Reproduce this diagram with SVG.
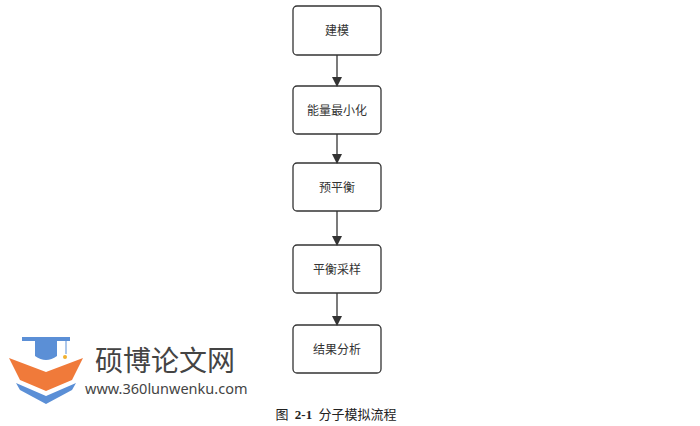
<svg xmlns="http://www.w3.org/2000/svg" width="700" height="426" viewBox="0 0 700 426">
<style>
.b{fill:#fff;stroke:#333;stroke-width:1.3}
.t{font-family:"Noto Sans CJK SC",sans-serif;font-size:12px;fill:#333;text-anchor:middle}
.c{stroke:#333;stroke-width:1.3;fill:none}
</style>
<defs><marker id="a" markerWidth="10" markerHeight="10" refX="9" refY="5" orient="auto" markerUnits="userSpaceOnUse"><path d="M0,0 L10,5 L0,10 z" fill="#333"/></marker></defs>
<rect width="700" height="426" fill="#fff"/>
<g id="n1"><rect class="b" x="293" y="6" width="88" height="49" rx="4"/><text class="t" x="337" y="35">建模</text></g>
<g id="n2"><rect class="b" x="293" y="86" width="88" height="48" rx="4"/><text class="t" x="337" y="115">能量最小化</text></g>
<g id="n3"><rect class="b" x="293" y="163" width="88" height="48" rx="4"/><text class="t" x="337" y="192">预平衡</text></g>
<g id="n4"><rect class="b" x="293" y="245" width="88" height="48" rx="4"/><text class="t" x="337" y="274">平衡采样</text></g>
<g id="n5"><rect class="b" x="293" y="325" width="88" height="48" rx="4"/><text class="t" x="337" y="354">结果分析</text></g>
<g id="connectors">
<line class="c" x1="337" y1="55" x2="337" y2="86" marker-end="url(#a)"/>
<line class="c" x1="337" y1="134" x2="337" y2="163" marker-end="url(#a)"/>
<line class="c" x1="337" y1="211" x2="337" y2="245" marker-end="url(#a)"/>
<line class="c" x1="337" y1="293" x2="337" y2="325" marker-end="url(#a)"/>
</g>
<g id="logo">
<path d="M22,337 L70,337 L70,341 L22,341 z" fill="#5b8fd6"/>
<path d="M35,340 L57,340 L57,356 Q46,364 35,356 z" fill="#5b8fd6"/>
<line x1="66" y1="340" x2="66" y2="354" stroke="#5b8fd6" stroke-width="1"/>
<circle cx="65" cy="357" r="2" fill="#f0b030"/>
<path d="M9,358 L46,372 L83,358 L72,380 L46,391 L20,380 z" fill="#f07a3a"/>
<path d="M16,383 L46,396 L76,383 L72,390 L46,404 L20,390 z" fill="#5b8fd6"/>
<text x="95" y="371" font-family="Noto Sans CJK SC,sans-serif" font-size="28" fill="#444">硕博论文网</text>
<text x="85" y="394" font-family="Noto Sans,sans-serif" font-size="14.5" fill="#444">www.360lunwenku.com</text>
</g>
<text x="336" y="419" font-family="Liberation Serif,Noto Sans CJK SC,serif" font-size="13" fill="#222" text-anchor="middle" word-spacing="3">图 <tspan font-weight="bold">2-1</tspan>  分子模拟流程</text>
</svg>
